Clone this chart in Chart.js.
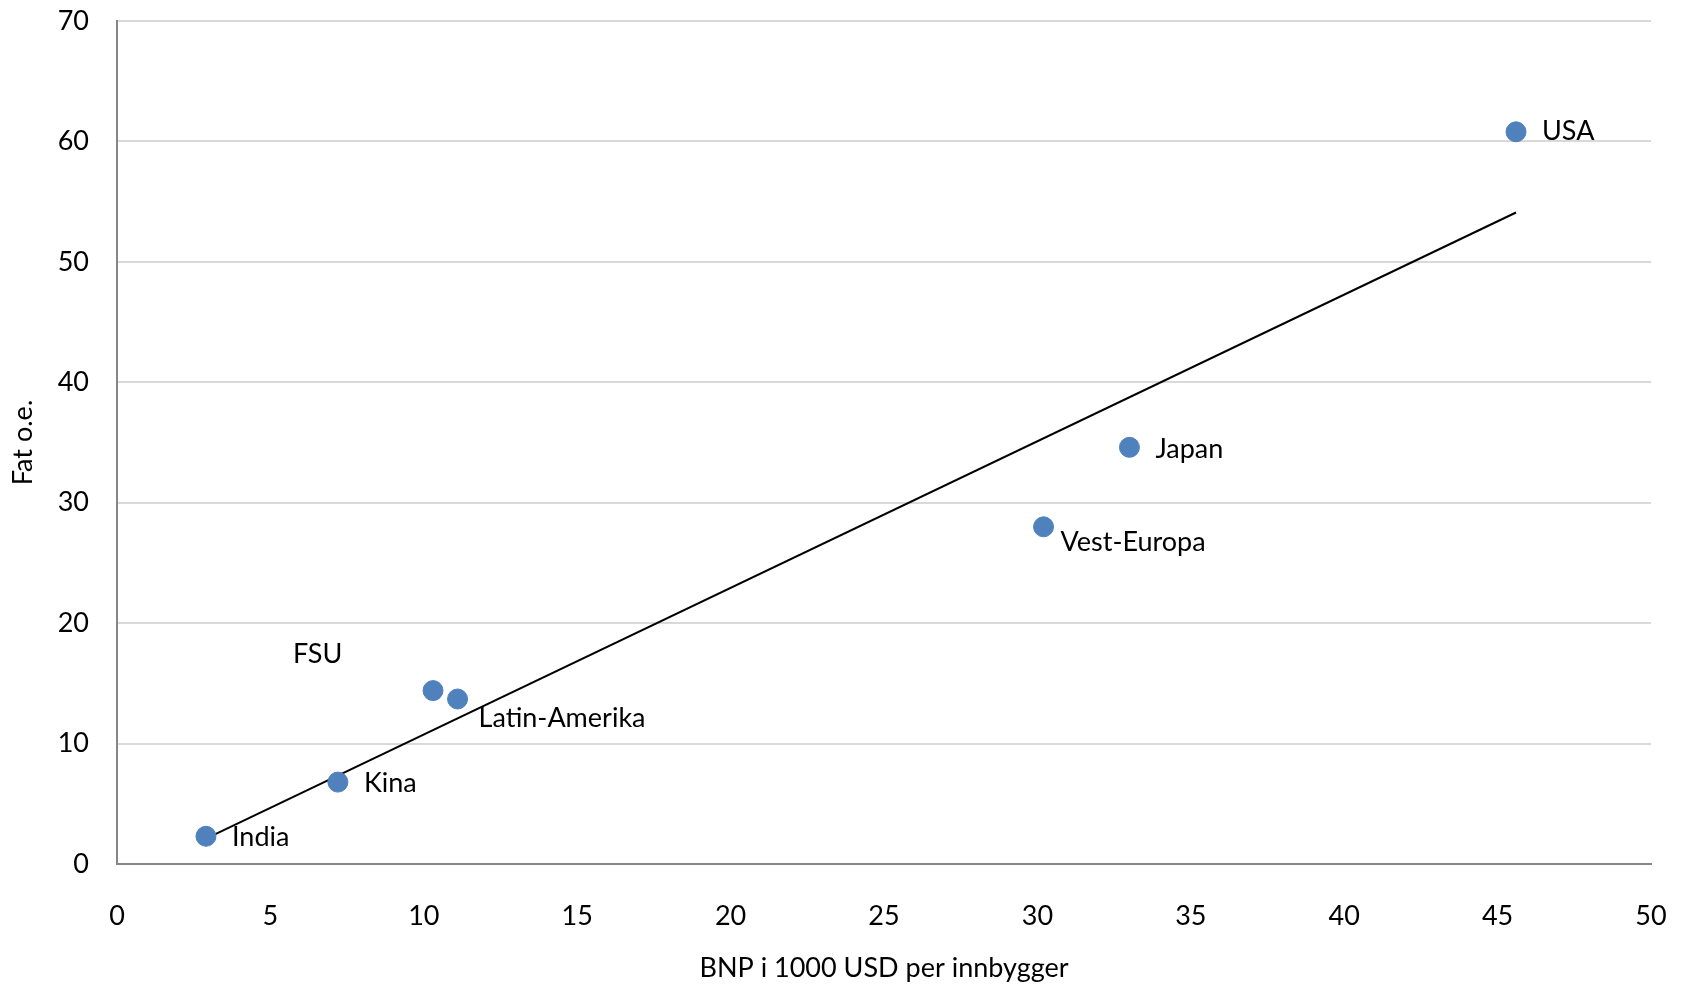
<!DOCTYPE html>
<html>
<head>
<meta charset="utf-8">
<script src="https://cdn.jsdelivr.net/npm/chart.js@4"></script>
<style>
  html, body { margin: 0; padding: 0; background: #fff; }
  #wrap { width: 1685px; height: 984px; }
</style>
</head>
<body>
<div id="wrap"><canvas id="myChart" width="1685" height="984"></canvas></div>
<script>
const regions = ['India', 'Kina', 'FSU', 'Latin-Amerika', 'Vest-Europa', 'Japan', 'USA'];
const gdp = [2.9, 7.2, 10.3, 11.1, 30.2, 33.0, 45.6];      // BNP i 1000 USD per innbygger
const oil = [2.3, 6.8, 14.4, 13.7, 28.0, 34.6, 60.8];      // fat o.e.
const trendX = [2.9, 45.6];
const trendY = [2.1, 54.1];
const xTicks = [0, 5, 10, 15, 20, 25, 30, 35, 40, 45, 50];
const yTicks = [0, 10, 20, 30, 40, 50, 60, 70];

const FONT = 'Lato';
const SIZE = 27;

// where each label sits relative to its point (px)
const labelOffsets = [[26, 1], [26, 1], [-140, -36], [21, 19], [17, 15], [26, 2], [26, 0]];

const pointLabels = {
  id: 'pointLabels',
  afterDatasetsDraw(chart) {
    const c = chart.ctx;
    const pts = chart.getDatasetMeta(0).data;
    c.save();
    c.font = SIZE + 'px ' + FONT;
    c.fillStyle = '#000';
    c.textAlign = 'left';
    c.textBaseline = 'middle';
    pts.forEach((p, i) => {
      c.fillText(regions[i], p.x + labelOffsets[i][0], p.y + labelOffsets[i][1]);
    });
    c.restore();
  }
};

const ctx = document.querySelector('#myChart');

new Chart(ctx, {
  type: 'scatter',
  data: {
    datasets: [{
      label: 'Regioner',
      data: gdp.map((x, i) => ({ x: x, y: oil[i] })),
      backgroundColor: '#4F81BD',
      borderColor: '#4F81BD',
      pointRadius: 10,
      order: 1
    }, {
      label: 'Trend',
      type: 'line',
      data: trendX.map((x, i) => ({ x: x, y: trendY[i] })),
      borderColor: '#000',
      borderWidth: 2,
      pointRadius: 0,
      fill: false,
      order: 2
    }]
  },
  options: {
    responsive: false,
    animation: false,
    devicePixelRatio: 1,
    layout: {
      padding: { top: 21, right: 34, bottom: 0, left: 0 }
    },
    plugins: {
      legend: { display: false },
      tooltip: { enabled: false }
    },
    scales: {
      x: {
        type: 'linear',
        min: 0,
        max: 50,
        afterBuildTicks: (s) => { s.ticks = xTicks.map(v => ({ value: v })); },
        afterFit: (s) => { s.height = 984 - 864; s.paddingLeft = 0; s.paddingRight = 0; },
        grid: { display: false, drawTicks: false },
        border: { display: true, color: '#868686', width: 2 },
        ticks: {
          color: '#000',
          font: { family: FONT, size: SIZE },
          padding: 36,
          maxRotation: 0
        },
        title: {
          display: true,
          text: 'BNP i 1000 USD per innbygger',
          color: '#000',
          font: { family: FONT, size: SIZE },
          padding: { top: 0, bottom: 0 }
        }
      },
      y: {
        type: 'linear',
        min: 0,
        max: 70,
        afterBuildTicks: (s) => { s.ticks = yTicks.map(v => ({ value: v })); },
        afterFit: (s) => { s.width = 117; s.paddingTop = 0; s.paddingBottom = 0; },
        grid: { color: '#D9D9D9', lineWidth: 2, drawTicks: false },
        border: { display: true, color: '#868686', width: 2 },
        ticks: {
          color: '#000',
          font: { family: FONT, size: SIZE },
          padding: 28
        },
        title: {
          display: true,
          text: 'Fat o.e.',
          color: '#000',
          font: { family: FONT, size: SIZE },
          padding: { top: 7, bottom: 0 }
        }
      }
    }
  },
  plugins: [pointLabels]
});
</script>
</body>
</html>
